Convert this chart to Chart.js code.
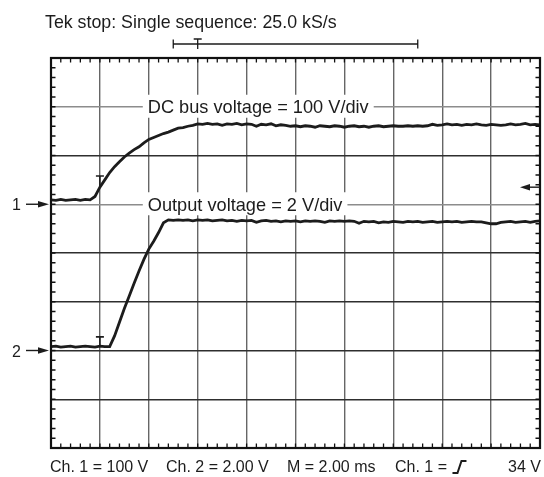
<!DOCTYPE html>
<html><head><meta charset="utf-8">
<script src="https://cdn.jsdelivr.net/npm/chart.js@4/dist/chart.umd.min.js"></script>
<style>html,body{margin:0;padding:0;background:#fff}#wrap{width:544px;height:477px;position:relative}</style>
</head><body><div id="wrap"><canvas id="c" width="544" height="477"></canvas></div>
<script>
// time in screen divisions (M = 2.00 ms/div)
const timeDiv = [0.0,0.1,0.2,0.3,0.4,0.5,0.6,0.7,0.8,0.9,1.0,1.1,1.2,1.3,1.4,1.5,1.6,1.7,1.8,1.9,
  2.0,2.1,2.2,2.3,2.4,2.5,2.6,2.7,2.8,2.9,3.0,3.1,3.2,3.3,3.4,3.5,3.6,3.7,3.8,3.9,
  4.0,4.1,4.2,4.3,4.4,4.5,4.6,4.7,4.8,4.9,5.0,5.1,5.2,5.3,5.4,5.5,5.6,5.7,5.8,5.9,
  6.0,6.1,6.2,6.3,6.4,6.5,6.6,6.7,6.8,6.9,7.0,7.1,7.2,7.3,7.4,7.5,7.6,7.7,7.8,7.9,
  8.0,8.1,8.2,8.3,8.4,8.5,8.6,8.7,8.8,8.9,9.0,9.1,9.2,9.3,9.4,9.5,9.6,9.7,9.8,9.9,10.0];
// Ch. 1 DC bus voltage, screen divisions
const ch1Div = [5.09,5.08,5.10,5.08,5.09,5.10,5.08,5.10,5.09,5.16,5.35,5.50,5.65,5.77,5.87,5.97,6.05,6.12,6.18,6.26,
  6.33,6.37,6.41,6.45,6.48,6.52,6.56,6.57,6.60,6.62,6.65,6.64,6.66,6.64,6.65,6.62,6.65,6.64,6.66,6.63,
  6.65,6.64,6.60,6.64,6.63,6.65,6.61,6.63,6.62,6.60,6.61,6.59,6.61,6.60,6.58,6.61,6.60,6.59,6.61,6.60,
  6.58,6.60,6.61,6.59,6.60,6.58,6.60,6.61,6.59,6.60,6.61,6.60,6.60,6.61,6.60,6.61,6.60,6.61,6.64,6.62,
  6.63,6.65,6.63,6.64,6.62,6.64,6.63,6.65,6.63,6.62,6.64,6.63,6.62,6.63,6.65,6.63,6.64,6.66,6.63,6.64,6.63];
// Ch. 2 output voltage, screen divisions
const ch2Div = [2.08,2.09,2.07,2.08,2.09,2.07,2.08,2.09,2.08,2.07,2.09,2.08,2.08,2.30,2.58,2.86,3.12,3.38,3.63,3.87,
  4.08,4.24,4.42,4.62,4.68,4.67,4.68,4.67,4.68,4.66,4.68,4.67,4.68,4.66,4.67,4.68,4.66,4.67,4.65,4.67,
  4.66,4.67,4.63,4.66,4.67,4.65,4.66,4.64,4.66,4.65,4.66,4.64,4.66,4.65,4.66,4.65,4.63,4.66,4.65,4.66,
  4.65,4.66,4.65,4.61,4.65,4.64,4.65,4.62,4.64,4.63,4.65,4.64,4.63,4.65,4.64,4.65,4.63,4.64,4.65,4.63,
  4.64,4.65,4.64,4.65,4.63,4.64,4.65,4.64,4.64,4.62,4.60,4.60,4.63,4.64,4.65,4.63,4.64,4.65,4.63,4.65,4.66];
const channelNames = ['1','2'];
const groundLevelDiv = [5, 2];
const triggerTimeDiv = [1.0, 1.0];
const triggerMarkDiv = [5.58, 2.28];
const triggerLevelDiv = 5.35;
const recordWindowDiv = [2.5, 7.5, 3.0]; // start, end, trigger
const traceLabels = ['DC bus voltage = 100 V/div', 'Output voltage = 2 V/div'];
const traceLabelLevelDiv = [7, 5];
const titleText = 'Tek stop: Single sequence: 25.0 kS/s';
const footerLabels = ['Ch. 1 = 100 V', 'Ch. 2 = 2.00 V', 'M = 2.00 ms', 'Ch. 1 = ', '34 V'];

const FONT = '"Liberation Sans", Arial, Helvetica, sans-serif';
const INK = '#1c1c1c';

const scopePlugin = {
  id: 'scope',
  beforeDatasetsDraw(chart) {
    const {ctx, scales: {x, y}} = chart;
    ctx.save();
    ctx.font = '18.2px ' + FONT;
    ctx.textBaseline = 'alphabetic';
    traceLabels.forEach((t, i) => {
      const px = x.getPixelForValue(2) - 1;
      const py = y.getPixelForValue(traceLabelLevelDiv[i]);
      const w = ctx.measureText(t).width;
      ctx.fillStyle = '#fff';
      ctx.fillRect(px - 5, py - 12, w + 10, 23);
      ctx.fillStyle = INK;
      ctx.fillText(t, px, py + 6.5);
    });
    ctx.restore();
  },
  afterDatasetsDraw(chart) {
    const {ctx, chartArea: a, scales: {x, y}} = chart;
    ctx.save();
    // minor ticks
    ctx.strokeStyle = '#111';
    ctx.lineWidth = 1.3;
    ctx.beginPath();
    for (let v = 0; v <= 50; v++) {
      const px = x.getPixelForValue(v / 5);
      ctx.moveTo(px, a.top); ctx.lineTo(px, a.top + 4.5);
      ctx.moveTo(px, a.bottom); ctx.lineTo(px, a.bottom - 4.5);
    }
    for (let v = 0; v <= 40; v++) {
      const py = y.getPixelForValue(v / 5);
      ctx.moveTo(a.left, py); ctx.lineTo(a.left + 4.5, py);
      ctx.moveTo(a.right, py); ctx.lineTo(a.right - 4.5, py);
    }
    ctx.stroke();
    // frame
    ctx.lineWidth = 2.2;
    ctx.strokeStyle = '#111';
    ctx.strokeRect(a.left, a.top, a.right - a.left, a.bottom - a.top);
    // trigger markers on traces
    ctx.lineWidth = 1.6;
    ctx.strokeStyle = INK;
    triggerTimeDiv.forEach((t, i) => {
      const px = x.getPixelForValue(t);
      const py = y.getPixelForValue(triggerMarkDiv[i]);
      ctx.beginPath();
      ctx.moveTo(px - 4, py); ctx.lineTo(px + 4, py);
      ctx.moveTo(px, py); ctx.lineTo(px, py + 10);
      ctx.stroke();
    });
    // trigger level arrow (right)
    const ty = y.getPixelForValue(triggerLevelDiv);
    ctx.fillStyle = INK;
    ctx.beginPath();
    ctx.moveTo(a.right - 20, ty); ctx.lineTo(a.right - 10, ty - 3.2); ctx.lineTo(a.right - 10, ty + 3.2);
    ctx.closePath(); ctx.fill();
    ctx.lineWidth = 1.4;
    ctx.beginPath(); ctx.moveTo(a.right - 11, ty); ctx.lineTo(a.right, ty); ctx.stroke();
    // channel ground arrows
    ctx.font = '16px ' + FONT;
    channelNames.forEach((n, i) => {
      const py = y.getPixelForValue(groundLevelDiv[i]);
      ctx.fillStyle = INK;
      ctx.fillText(n, 12, py + 6);
      ctx.lineWidth = 1.4;
      ctx.beginPath(); ctx.moveTo(26, py); ctx.lineTo(40, py); ctx.stroke();
      ctx.beginPath();
      ctx.moveTo(a.left - 2, py); ctx.lineTo(a.left - 13, py - 3.2); ctx.lineTo(a.left - 13, py + 3.2);
      ctx.closePath(); ctx.fill();
    });
    // title
    ctx.font = '17.8px ' + FONT;
    ctx.fillText(titleText, a.left - 6, 28);
    // record window bracket
    const bx0 = x.getPixelForValue(recordWindowDiv[0]);
    const bx1 = x.getPixelForValue(recordWindowDiv[1]);
    const bt = x.getPixelForValue(recordWindowDiv[2]);
    const by = 44;
    ctx.lineWidth = 1.3;
    ctx.beginPath();
    ctx.moveTo(bx0, by); ctx.lineTo(bx1, by);
    ctx.moveTo(bx0, by - 4.5); ctx.lineTo(bx0, by + 4.5);
    ctx.moveTo(bx1, by - 4.5); ctx.lineTo(bx1, by + 4.5);
    ctx.moveTo(bt - 4, by - 5); ctx.lineTo(bt + 4, by - 5);
    ctx.moveTo(bt, by - 5); ctx.lineTo(bt, by + 5);
    ctx.stroke();
    // footer
    ctx.font = '16px ' + FONT;
    const fy = 472;
    const fx = [a.left - 1, a.left + 115, a.left + 236, a.left + 344];
    for (let i = 0; i < 4; i++) ctx.fillText(footerLabels[i], fx[i], fy);
    const ex = fx[3] + ctx.measureText(footerLabels[3]).width + 1;
    ctx.lineWidth = 2;
    ctx.beginPath();
    ctx.moveTo(ex, fy + 1); ctx.lineTo(ex + 5, fy + 1);
    ctx.lineTo(ex + 9, fy - 11); ctx.lineTo(ex + 14, fy - 11);
    ctx.stroke();
    ctx.textAlign = 'right';
    ctx.fillText(footerLabels[4], a.right + 1, fy);
    ctx.restore();
  }
};

new Chart(document.getElementById('c'), {
  type: 'line',
  data: {
    datasets: [
      { data: timeDiv.map((t, i) => ({x: t, y: ch1Div[i]})), borderColor: INK, borderWidth: 2.8, pointRadius: 0, tension: 0 },
      { data: timeDiv.map((t, i) => ({x: t, y: ch2Div[i]})), borderColor: INK, borderWidth: 2.8, pointRadius: 0, tension: 0 }
    ]
  },
  options: {
    responsive: false, animation: false, devicePixelRatio: 1,
    layout: { padding: { left: 51, top: 58, right: 4, bottom: 29 } },
    plugins: { legend: { display: false }, tooltip: { enabled: false }, title: { display: false } },
    scales: {
      x: { type: 'linear', min: 0, max: 10,
           ticks: { display: false, stepSize: 1 },
           grid: { color: '#666', lineWidth: 1.4, drawTicks: false },
           border: { display: false } },
      y: { type: 'linear', min: 0, max: 8,
           ticks: { display: false, stepSize: 1 },
           grid: { color: c => (c.tick && (c.tick.value === 5 || c.tick.value === 7)) ? '#8c8c8c' : '#2e2e2e', lineWidth: 1.4, drawTicks: false },
           border: { display: false } }
    }
  },
  plugins: [scopePlugin]
});
</script></body></html>
